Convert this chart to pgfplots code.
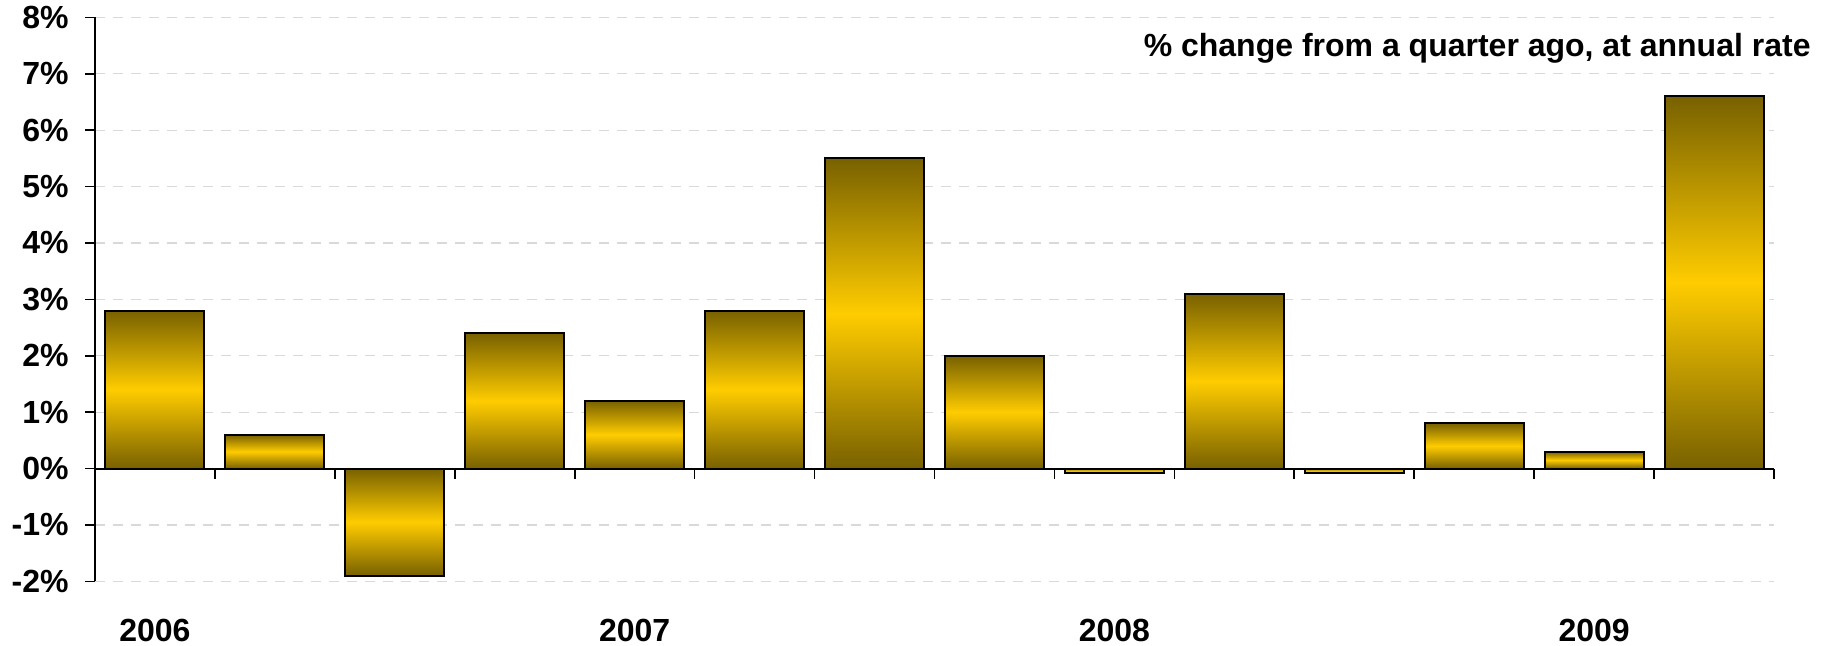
\documentclass[border=0pt]{standalone}
\usepackage{pgfplots}
\pgfplotsset{compat=1.18}
\usepackage{fontspec}
\setmainfont{Liberation Sans}
\definecolor{barDark}{RGB}{120,97,0}
\definecolor{barGold}{RGB}{255,204,0}
\definecolor{gridgray}{RGB}{217,217,217}
\begin{document}
\begin{tikzpicture}
\path[use as bounding box] (-47.5pt,-31.85pt) rectangle (868pt,290.65pt);
\begin{axis}[
  at={(0,0)}, anchor=south west,
  scale only axis, width=839.5pt, height=282pt,
  xmin=0.5, xmax=14.5, ymin=-2, ymax=8,
  axis y line*=left, axis x line*=middle,
  xtick={0.5,1.5,...,14.5}, xticklabels={},
  ytick={-2,-1,0,1,2,3,4,5,6,7,8},
  yticklabels={-2\%,-1\%,0\%,1\%,2\%,3\%,4\%,5\%,6\%,7\%,8\%},
  tick align=outside, xtick align=outside,
  major tick length=5pt,
  axis line style={black, line width=1pt},
  every tick/.style={black, line width=0.8pt},
  ymajorgrids,
  grid style={gridgray, line width=0.6pt, dash pattern=on 5pt off 4pt},
  ticklabel style={font=\bfseries\fontsize{16}{19}\selectfont},
  yticklabel style={inner sep=2pt, xshift=-6pt},
  clip=false,
  mybar/.style={ybar, bar width=49.5pt, bar shift=0pt, draw=black, line width=1pt,
    top color=barDark, bottom color=barDark, middle color=barGold},
]
\addplot[mybar] coordinates {(1,2.8)};
\addplot[mybar] coordinates {(2,0.6)};
\addplot[mybar] coordinates {(3,-1.9)};
\addplot[mybar] coordinates {(4,2.4)};
\addplot[mybar] coordinates {(5,1.2)};
\addplot[mybar] coordinates {(6,2.8)};
\addplot[mybar] coordinates {(7,5.5)};
\addplot[mybar] coordinates {(8,2.0)};
\addplot[mybar] coordinates {(9,-0.08)};
\addplot[mybar] coordinates {(10,3.1)};
\addplot[mybar] coordinates {(11,-0.08)};
\addplot[mybar] coordinates {(12,0.8)};
\addplot[mybar] coordinates {(13,0.3)};
\addplot[mybar] coordinates {(14,6.6)};
\node[font=\bfseries\fontsize{16}{19}\selectfont, yshift=-24.35pt] at (axis cs:1,-2) {2006};
\node[font=\bfseries\fontsize{16}{19}\selectfont, yshift=-24.35pt] at (axis cs:5,-2) {2007};
\node[font=\bfseries\fontsize{16}{19}\selectfont, yshift=-24.35pt] at (axis cs:9,-2) {2008};
\node[font=\bfseries\fontsize{16}{19}\selectfont, yshift=-24.35pt] at (axis cs:13,-2) {2009};
\node[anchor=east, font=\bfseries\fontsize{16}{19}\selectfont, xshift=18.5pt, yshift=-15.35pt, inner sep=0pt] at (rel axis cs:1,1) {\% change from a quarter ago, at annual rate};
\end{axis}
\end{tikzpicture}
\end{document}
